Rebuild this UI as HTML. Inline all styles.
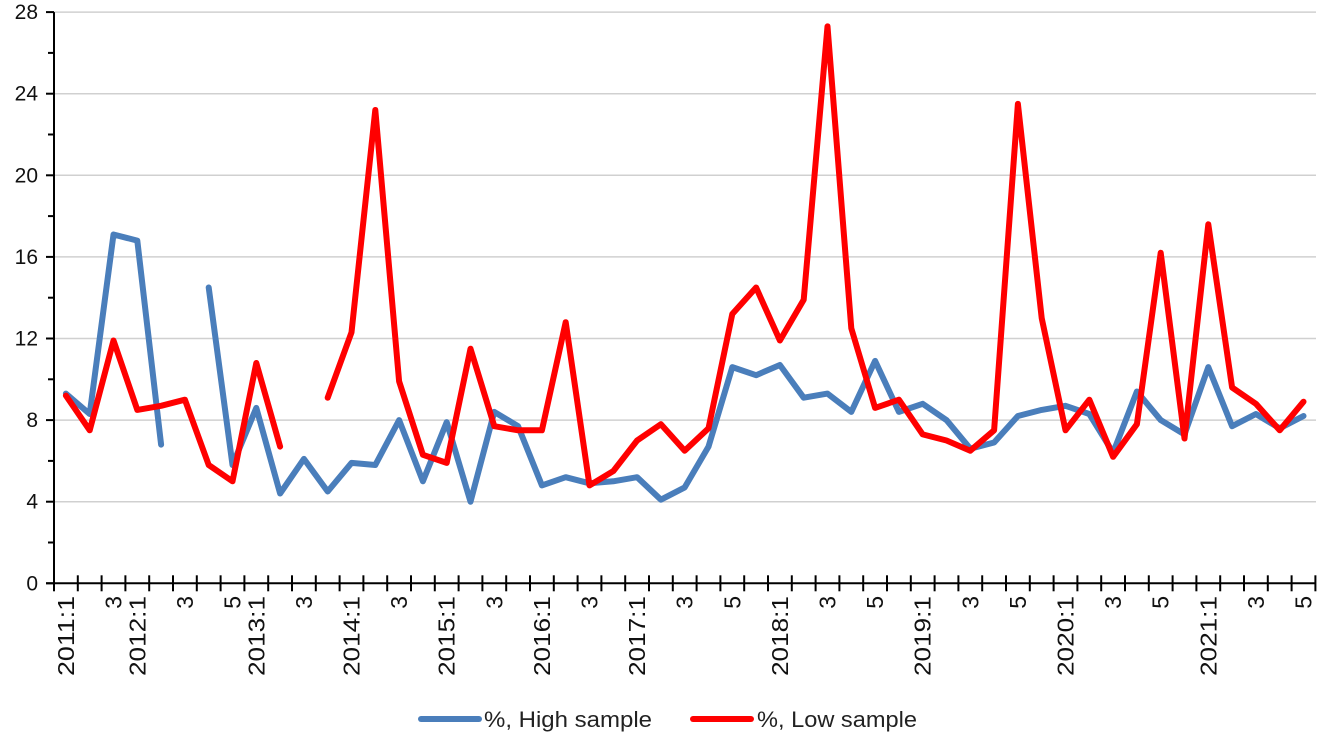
<!DOCTYPE html>
<html><head><meta charset="utf-8"><style>
html,body{margin:0;padding:0;background:#fff;}
svg{display:block;font-family:"Liberation Sans",sans-serif;}
</style></head><body>
<svg id="c" width="1323" height="737" viewBox="0 0 1323 737" xmlns="http://www.w3.org/2000/svg"></svg>
<script>
const svg=document.getElementById('c');
const NS='http://www.w3.org/2000/svg';
function el(t,a,txt){const e=document.createElementNS(NS,t);for(const k in a)e.setAttribute(k,a[k]);if(txt!==undefined)e.textContent=txt;svg.appendChild(e);return e;}
const X0=54, W=23.8, Y0=583.3, PU=20.4;
const xi=i=>X0+W/2+W*i, yv=v=>Y0-v*PU;
for(let v=4;v<=28;v+=4){el('line',{x1:X0,x2:1316,y1:yv(v),y2:yv(v),stroke:'#d0d0d0','stroke-width':1.5});}
for(let v=0;v<=28;v+=4){el('text',{x:38,y:yv(v)+7,'text-anchor':'end','font-size':21,fill:'#111'},String(v));}
el('line',{x1:X0,x2:X0,y1:yv(28),y2:Y0,stroke:'#000','stroke-width':2});
el('line',{x1:X0-8,x2:1316,y1:Y0,y2:Y0,stroke:'#000','stroke-width':2});
for(let v=0;v<=28;v+=2){el('line',{x1:v%4==0?X0-8:X0-6,x2:X0,y1:yv(v),y2:yv(v),stroke:'#000','stroke-width':2});}
for(let i=0;i<=53;i++){const x=X0+W*i;el('line',{x1:x,x2:x,y1:Y0-8,y2:Y0+8,stroke:'#000','stroke-width':2});}
const labs={0:'2011:1',2:'3',3:'2012:1',5:'3',7:'5',8:'2013:1',10:'3',12:'2014:1',14:'3',16:'2015:1',18:'3',20:'2016:1',22:'3',24:'2017:1',26:'3',28:'5',30:'2018:1',32:'3',34:'5',36:'2019:1',38:'3',40:'5',42:'2020:1',44:'3',46:'5',48:'2021:1',50:'3',52:'5'};
for(const k in labs){const x=xi(+k)+8,y=596;const a={x:x,y:y,'text-anchor':'end','font-size':23,fill:'#111',transform:`rotate(-90 ${x} ${y})`};if(labs[k].length>2){a.textLength=80;a.lengthAdjust='spacingAndGlyphs';}el('text',a,labs[k]);}
const blue=[9.3,8.3,17.1,16.8,6.8,null,14.5,5.8,8.6,4.4,6.1,4.5,5.9,5.8,8.0,5.0,7.9,4.0,8.4,7.7,4.8,5.2,4.9,5.0,5.2,4.1,4.7,6.7,10.6,10.2,10.7,9.1,9.3,8.4,10.9,8.4,8.8,8.0,6.6,6.9,8.2,8.5,8.7,8.3,6.4,9.4,8.0,7.3,10.6,7.7,8.3,7.6,8.2];
const red=[9.2,7.5,11.9,8.5,8.7,9.0,5.8,5.0,10.8,6.7,null,9.1,12.3,23.2,9.9,6.3,5.9,11.5,7.7,7.5,7.5,12.8,4.8,5.5,7.0,7.8,6.5,7.6,13.2,14.5,11.9,13.9,27.3,12.5,8.6,9.0,7.3,7.0,6.5,7.5,23.5,13.0,7.5,9.0,6.2,7.8,16.2,7.1,17.6,9.6,8.8,7.5,8.9];
function series(d,col){let p='',pen=false;d.forEach((v,i)=>{if(v===null){pen=false;return;}p+=(pen?'L':'M')+xi(i).toFixed(1)+' '+yv(v).toFixed(1)+' ';pen=true;});
el('path',{d:p,fill:'none',stroke:col,'stroke-width':6,'stroke-linejoin':'round','stroke-linecap':'round'});}
series(blue,'#4a7ebb');series(red,'#ff0000');
el('line',{x1:421,x2:479,y1:719,y2:719,stroke:'#4a7ebb','stroke-width':6,'stroke-linecap':'round'});
el('text',{x:484,y:727,'font-size':22,fill:'#222',textLength:168,lengthAdjust:'spacingAndGlyphs'},'%, High sample');
el('line',{x1:693,x2:751,y1:719,y2:719,stroke:'#ff0000','stroke-width':6,'stroke-linecap':'round'});
el('text',{x:757,y:727,'font-size':22,fill:'#222',textLength:160,lengthAdjust:'spacingAndGlyphs'},'%, Low sample');
</script>
</body></html>
